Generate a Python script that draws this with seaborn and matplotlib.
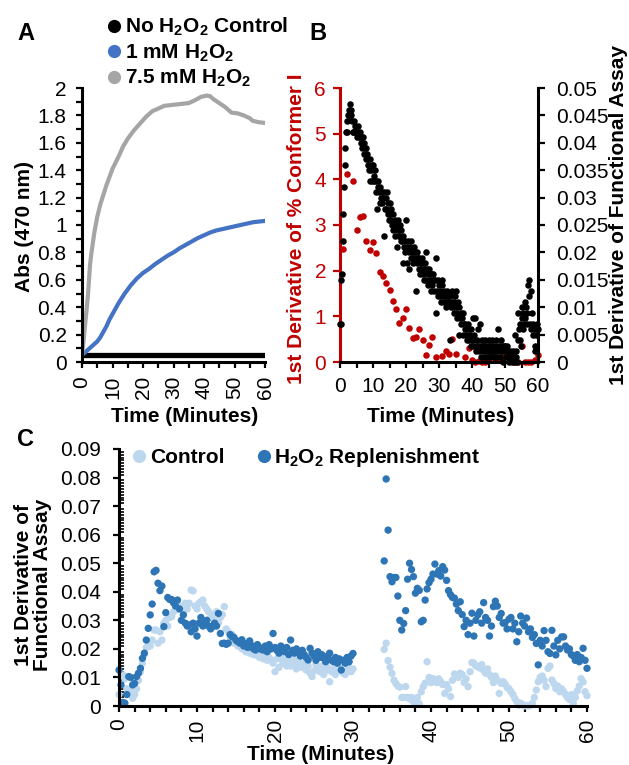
import numpy as np
import pandas as pd
import matplotlib
matplotlib.use("Agg")
import matplotlib.pyplot as plt
import seaborn as sns
from matplotlib.lines import Line2D
from matplotlib.ticker import MultipleLocator, FuncFormatter

# ---------------- Panel A data ----------------
A_GRAY_T = [0, 0.5, 1, 1.5, 2, 2.6, 3, 4, 5, 6, 7, 8, 9, 10, 12, 13.4, 15, 17, 19, 21, 23, 25,
            27, 29, 31, 33, 35, 37, 39, 41, 42, 43, 45, 47, 49, 51, 53, 55, 56, 58, 60]
A_GRAY_V = [0.05, 0.15, 0.27, 0.38, 0.50, 0.70, 0.78, 0.94, 1.06, 1.15, 1.22, 1.29, 1.35, 1.41,
            1.50, 1.57, 1.63, 1.69, 1.74, 1.79, 1.83, 1.85, 1.87, 1.875, 1.88, 1.885, 1.89, 1.91,
            1.935, 1.945, 1.94, 1.92, 1.89, 1.86, 1.82, 1.815, 1.80, 1.78, 1.76, 1.75, 1.745]
A_BLUE_T = [0, 2, 4, 5, 6, 7, 8, 9, 10, 11, 12, 14, 16, 18, 20, 22, 24, 26, 28, 30, 32, 34, 36,
            38, 40, 42, 44, 46, 48, 50, 52, 54, 56, 58, 60]
A_BLUE_V = [0.05, 0.09, 0.13, 0.15, 0.18, 0.22, 0.26, 0.31, 0.35, 0.39, 0.43, 0.50, 0.56, 0.61,
            0.65, 0.68, 0.715, 0.745, 0.775, 0.80, 0.83, 0.855, 0.88, 0.905, 0.925, 0.945, 0.96,
            0.97, 0.98, 0.99, 1.00, 1.01, 1.02, 1.025, 1.03]
A_BLACK_T = [0, 10, 20, 30, 40, 50, 60]
A_BLACK_V = [0.05, 0.05, 0.05, 0.05, 0.05, 0.05, 0.05]
A_LEGEND = [r"No H$_\mathbf{2}$O$_\mathbf{2}$ Control", r"1 mM H$_\mathbf{2}$O$_\mathbf{2}$",
            r"7.5 mM H$_\mathbf{2}$O$_\mathbf{2}$"]

# ---------------- Panel B data ----------------
B_RED_T = [1, 2, 3, 4, 5, 6, 7, 8, 9, 10, 11, 12, 13, 14, 15, 16, 17, 18, 19, 20, 21, 22, 23, 24,
           25, 26, 27, 28, 29, 31, 32, 33, 34, 35, 38, 39, 40, 41, 42, 43, 44, 45, 46, 47, 48,
           49, 50, 51, 52, 53, 54, 55, 56, 57, 58, 59, 60]
B_RED_V = [2.47, 4.12, 5.31, 3.97, 2.89, 3.17, 3.20, 2.66, 2.45, 2.62,
           2.39, 1.96, 1.88, 1.74, 1.58, 1.34, 1.15, 0.85, 0.96, 1.15,
           0.74, 0.52, 0.55, 0.73, 0.49, 0.15, 0.37, 0.54, 0.10,
           0.14, 0.25, 0.17, 0.50, 0.18,
           0.10, 0.30, 0.04, 0.0, 0.02, 0.0, 0.0, 0.08, 0.15, 0.05,
           0.05, 0.10, 0.23, 0.12, 0.08, 0.0, 0.0, 0.35, 0.0, 0.0,
           0.0, 0.05, 0.15]
B_BLK_STEP = 0.2
B_BLK_V = [
    0.007, 0.007, 0.015, 0.016, 0.022,  0.027, 0.032, 0.036, 0.039, 0.042,
    0.044, 0.042, 0.045, 0.046, 0.045,  0.047, 0.046, 0.045, 0.044, 0.042,
    0.042, 0.044, 0.042, 0.043, 0.042,  0.042, 0.041, 0.043, 0.042, 0.041,
    0.042, 0.041, 0.040, 0.041, 0.039,  0.041, 0.040, 0.038, 0.039, 0.037,
    0.039, 0.038, 0.036, 0.037, 0.035,  0.033, 0.037, 0.035, 0.036, 0.033,
    0.036, 0.034, 0.033, 0.035, 0.031,  0.033, 0.028, 0.032, 0.033, 0.031,
    0.029, 0.032, 0.030, 0.031, 0.029,  0.030, 0.023, 0.031, 0.028, 0.030,
    0.028, 0.031, 0.027, 0.029, 0.026,  0.029, 0.026, 0.027, 0.028, 0.025,
    0.024, 0.027, 0.025, 0.026, 0.023,  0.025, 0.021, 0.024, 0.026, 0.023,
    0.023, 0.025, 0.022, 0.024, 0.022,  0.018, 0.023, 0.021, 0.022, 0.020,
    0.026, 0.021, 0.018, 0.022, 0.020,  0.017, 0.021, 0.019, 0.022, 0.020,
    0.020, 0.018, 0.021, 0.019, 0.020,  0.013, 0.020, 0.018, 0.019, 0.017,
    0.019, 0.016, 0.018, 0.017, 0.019,  0.016, 0.018, 0.017, 0.015, 0.018,
    0.020, 0.015, 0.017, 0.016, 0.014,  0.017, 0.015, 0.016, 0.013, 0.016,
    0.014, 0.016, 0.015, 0.013, 0.015,  0.019, 0.009, 0.013, 0.015, 0.012,
    0.014, 0.012, 0.013, 0.011, 0.014,  0.015, 0.012, 0.013, 0.011, 0.012,
    0.012, 0.010, 0.013, 0.011, 0.012,  0.011, 0.004, 0.012, 0.010, 0.011,
    0.013, 0.010, 0.011, 0.009, 0.012,  0.009, 0.013, 0.010, 0.008, 0.011,
    0.005, 0.010, 0.008, 0.009, 0.007,  0.008, 0.005, 0.009, 0.007, 0.006,
    0.007, 0.005, 0.006, 0.004, 0.007,  0.006, 0.004, 0.005, 0.003, 0.006,
    0.003, 0.008, 0.004, 0.005, 0.003,  0.008, 0.002, 0.004, 0.003, 0.006,
    0.003, 0.002, 0.007, 0.003, 0.001,  0.004, 0.002, 0.003, 0.001, 0.003,
    0.004, 0.002, 0.003, 0.001, 0.002,  0.003, 0.004, 0.002, 0.001, 0.003,
    0.002, 0.004, 0.003, 0.001, 0.002,  0.003, 0.001, 0.004, 0.002, 0.003,
    0.006, 0.002, 0.003, 0.001, 0.004,  0.002, 0.003, 0.000, 0.002, 0.003,
    0.003, 0.001, 0.002, 0.003, 0.001,  0.002, 0.000, 0.001, 0.002, 0.001,
    0.001, 0.000, 0.002, 0.001, 0.000,  0.005, 0.001, 0.002, 0.000, 0.004,
    0.009, 0.006, 0.004, 0.007, 0.003,  0.010, 0.008, 0.006, 0.009, 0.007,
    0.011, 0.008, 0.010, 0.007, 0.009,  0.014, 0.015, 0.012, 0.007, 0.006,
    0.013, 0.009, 0.007, 0.005, 0.006,  0.002, 0.003, 0.005, 0.007, 0.006,
    0.006]
B_BLK_T = list(np.round(np.arange(len(B_BLK_V)) * B_BLK_STEP, 1))

# ---------------- Panel C data ----------------
C_STEP = 0.25
C_SEG1_START, C_SEG2_START = 0.0, 34.0
C_H2O2_SEG1 = [
    0.0126, 0.0074, 0.0012, 0.0010, 0.0040, 0.0103, 0.0100, 0.0074,
    0.0079, 0.0103, 0.0115, 0.0132, 0.0167, 0.0185, 0.0231, 0.0272,
    0.0319, 0.0357, 0.0470, 0.0475, 0.0430, 0.0404, 0.0420, 0.0278,
    0.0327, 0.0380, 0.0373, 0.0373, 0.0361, 0.0350, 0.0371, 0.0340,
    0.0300, 0.0319, 0.0290, 0.0280, 0.0284, 0.0260, 0.0290, 0.0270,
    0.0245, 0.0290, 0.0310, 0.0280, 0.0290, 0.0300, 0.0280, 0.0270,
    0.0278, 0.0290, 0.0280, 0.0324, 0.0254, 0.0219, 0.0220, 0.0216,
    0.0220, 0.0250, 0.0243, 0.0240, 0.0230, 0.0225, 0.0220, 0.0232,
    0.0210, 0.0218, 0.0205, 0.0228, 0.0212, 0.0200, 0.0196, 0.0215,
    0.0205, 0.0198, 0.0196, 0.0210, 0.0190, 0.0215, 0.0200, 0.0254,
    0.0205, 0.0195, 0.0185, 0.0210, 0.0200, 0.0190, 0.0205, 0.0180,
    0.0231, 0.0195, 0.0185, 0.0200, 0.0190, 0.0175, 0.0195, 0.0180,
    0.0170, 0.0161, 0.0202, 0.0185, 0.0175, 0.0160, 0.0190, 0.0170,
    0.0180, 0.0167, 0.0155, 0.0175, 0.0185, 0.0160, 0.0155, 0.0170,
    0.0150, 0.0165, 0.0126, 0.0160, 0.0150, 0.0170, 0.0155, 0.0175,
    0.0184]
C_CTRL_SEG1 = [
    0.0040, 0.0109, 0.0109, 0.0095, 0.0060, 0.0044, 0.0056, 0.0027,
    0.0040, 0.0060, 0.0090, 0.0120, 0.0150, 0.0180, 0.0205, 0.0225,
    0.0210, 0.0231, 0.0266, 0.0266, 0.0220, 0.0260, 0.0231, 0.0290,
    0.0300, 0.0280, 0.0310, 0.0313, 0.0330, 0.0336, 0.0340, 0.0350,
    0.0345, 0.0330, 0.0360, 0.0340, 0.0360, 0.0406, 0.0403, 0.0350,
    0.0340, 0.0360, 0.0365, 0.0371, 0.0350, 0.0340, 0.0330, 0.0310,
    0.0320, 0.0300, 0.0330, 0.0290, 0.0310, 0.0320, 0.0348, 0.0270,
    0.0260, 0.0240, 0.0250, 0.0220, 0.0230, 0.0210, 0.0220, 0.0200,
    0.0215, 0.0190, 0.0205, 0.0185, 0.0195, 0.0180, 0.0179, 0.0190,
    0.0170, 0.0185, 0.0165, 0.0175, 0.0160, 0.0170, 0.0161, 0.0150,
    0.0120, 0.0165, 0.0135, 0.0170, 0.0150, 0.0160, 0.0140, 0.0155,
    0.0140, 0.0165, 0.0150, 0.0130, 0.0160, 0.0145, 0.0135, 0.0150,
    0.0126, 0.0140, 0.0115, 0.0103, 0.0123, 0.0145, 0.0130, 0.0120,
    0.0140, 0.0110, 0.0125, 0.0135, 0.0085, 0.0120, 0.0130, 0.0110,
    0.0120, 0.0145, 0.0155, 0.0115, 0.0110, 0.0125, 0.0135, 0.0120,
    0.0130]
C_H2O2_SEG2 = [
    0.0508, 0.0795, 0.0616, 0.0453,  0.0435, 0.0450, 0.0450, 0.0385,
    0.0300, 0.0266, 0.0289, 0.0334,  0.0444, 0.0500, 0.0478, 0.0453,
    0.0395, 0.0412, 0.0405, 0.0295,  0.0300, 0.0371, 0.0410, 0.0432,
    0.0444, 0.0462, 0.0497, 0.0462,  0.0474, 0.0455, 0.0488, 0.0476,
    0.0440, 0.0404, 0.0390, 0.0380,  0.0378, 0.0357, 0.0334, 0.0365,
    0.0320, 0.0278, 0.0300, 0.0250,  0.0290, 0.0325, 0.0245, 0.0300,
    0.0319, 0.0330, 0.0290, 0.0362,  0.0310, 0.0300, 0.0245, 0.0280,
    0.0348, 0.0367, 0.0350, 0.0310,  0.0324, 0.0290, 0.0292, 0.0270,
    0.0304, 0.0310, 0.0270, 0.0290,  0.0225, 0.0260, 0.0315, 0.0290,
    0.0280, 0.0308, 0.0260, 0.0270,  0.0240, 0.0250, 0.0219, 0.0144,
    0.0230, 0.0210, 0.0264, 0.0230,  0.0190, 0.0184, 0.0265, 0.0210,
    0.0179, 0.0230, 0.0200, 0.0242,  0.0242, 0.0210, 0.0196, 0.0200,
    0.0180, 0.0175, 0.0160, 0.0180,  0.0155, 0.0170, 0.0202, 0.0160,
    0.0132]
C_CTRL_SEG2 = [
    0.0198, 0.0220, 0.0159, 0.0136,  0.0114, 0.0090, 0.0079, 0.0070,
    0.0066, 0.0030, 0.0030, 0.0068,  0.0030, 0.0025, 0.0030, 0.0015,
    0.0010, 0.0030, 0.0008, 0.0050,  0.0068, 0.0080, 0.0155, 0.0100,
    0.0082, 0.0096, 0.0090, 0.0082,  0.0095, 0.0085, 0.0075, 0.0044,
    0.0075, 0.0060, 0.0033, 0.0090,  0.0112, 0.0105, 0.0100, 0.0115,
    0.0110, 0.0082, 0.0095, 0.0068,  0.0120, 0.0152, 0.0150, 0.0140,
    0.0138, 0.0133, 0.0145, 0.0125,  0.0115, 0.0130, 0.0110, 0.0100,
    0.0082, 0.0105, 0.0091, 0.0044,  0.0079, 0.0085, 0.0077, 0.0065,
    0.0060, 0.0050, 0.0040, 0.0026,  0.0015, 0.0003, 0.0010, 0.0005,
    0.0000, 0.0002, 0.0000, 0.0003,  0.0010, 0.0030, 0.0056, 0.0085,
    0.0100, 0.0105, 0.0090, 0.0068,  0.0132, 0.0140, 0.0091, 0.0079,
    0.0061, 0.0070, 0.0050, 0.0060,  0.0050, 0.0040, 0.0030, 0.0023,
    0.0040, 0.0009, 0.0030, 0.0053,  0.0070, 0.0096, 0.0084, 0.0050,
    0.0036]
C_GROUPS = ["Control", "H2O2 Replenishment"]
C_LEGEND = ["Control", r"H$_\mathbf{2}$O$_\mathbf{2}$ Replenishment"]

# ---------------- colours ----------------
COL_GRAY, COL_BLUE, COL_BLACK = "#A5A5A5", "#4472C4", "#000000"
COL_RED = "#C00000"
COL_LIGHT, COL_DARK = "#BDD7EE", "#2E75B6"

# ---------------- style ----------------
sns.set_style("ticks")
plt.rcParams["font.family"] = ["Liberation Sans", "DejaVu Sans"]
plt.rcParams["font.size"] = 15
plt.rcParams["text.color"] = "black"
plt.rcParams["axes.labelcolor"] = "black"
plt.rcParams["axes.edgecolor"] = "black"
plt.rcParams["xtick.color"] = "black"
plt.rcParams["ytick.color"] = "black"
plt.rcParams["mathtext.fontset"] = "custom"
plt.rcParams["mathtext.rm"] = "Liberation Sans"
plt.rcParams["mathtext.bf"] = "Liberation Sans:bold"
plt.rcParams["mathtext.it"] = "Liberation Sans:italic"

W, H = 629, 765
fig = plt.figure(figsize=(W / 100, H / 100), dpi=100)


def box(l, t, r, b):
    return [l / W, 1 - b / H, (r - l) / W, (b - t) / H]


def fmt(v, p):
    s = ("%.4f" % v).rstrip("0").rstrip(".")
    return "0" if s in ("-0", "") else s


def ax_coords(ax, px, py):
    disp = fig.transFigure.transform((px / W, 1 - py / H))
    return ax.transAxes.inverted().transform(disp)


SPINE_W = 2.2

# ================= Panel A =================
axA = fig.add_axes(box(82, 88, 265, 362))
sns.lineplot(x=A_BLACK_T, y=A_BLACK_V, color=COL_BLACK, lw=3.8, ax=axA)
sns.lineplot(x=A_BLUE_T, y=A_BLUE_V, color=COL_BLUE, lw=3.0, ax=axA)
sns.lineplot(x=A_GRAY_T, y=A_GRAY_V, color=COL_GRAY, lw=3.0, ax=axA)
axA.set_xlim(0, 60)
axA.set_ylim(0, 2)
sns.despine(ax=axA)
for s in ("left", "bottom"):
    axA.spines[s].set_linewidth(SPINE_W)
axA.xaxis.set_major_locator(MultipleLocator(10))
axA.xaxis.set_minor_locator(MultipleLocator(5))
axA.yaxis.set_major_locator(MultipleLocator(0.2))
axA.yaxis.set_minor_locator(MultipleLocator(0.1))
axA.xaxis.set_major_formatter(FuncFormatter(fmt))
axA.yaxis.set_major_formatter(FuncFormatter(fmt))
axA.tick_params(axis="both", which="both", direction="out", width=1.6, length=4, colors="black")
axA.tick_params(axis="y", which="major", pad=7, labelsize=15)
axA.tick_params(axis="x", which="major", pad=6, labelsize=15, labelrotation=90)
axA.set_xlabel("Time (Minutes)", fontsize=15, fontweight="bold", ha="center", va="center")
axA.xaxis.set_label_coords(*ax_coords(axA, 185, 417))
axA.set_ylabel("Abs (470 nm)", fontsize=15, fontweight="bold", ha="center", va="center")
axA.yaxis.set_label_coords(*ax_coords(axA, 25, 227))

handlesA = [Line2D([], [], ls="", marker="o", markersize=9.5, markeredgewidth=0, color=c)
            for c in (COL_BLACK, COL_BLUE, COL_GRAY)]
fig.legend(handlesA, A_LEGEND, loc="upper left", bbox_to_anchor=(108 / W, 1 - 16 / H),
           frameon=False, borderpad=0, borderaxespad=0, handlelength=0.6,
           handletextpad=0.2, labelspacing=0.2,
           prop={"size": 15, "weight": "bold"})

# ================= Panel B =================
axB = fig.add_axes(box(340, 88, 538, 362))
axB2 = axB.twinx()
sns.scatterplot(x=B_RED_T, y=B_RED_V, color=COL_RED, s=22, linewidth=0, ax=axB, clip_on=False)
sns.scatterplot(x=B_BLK_T, y=B_BLK_V, color=COL_BLACK, s=22, linewidth=0, ax=axB2, clip_on=False)
axB.set_xlim(0, 60)
axB.set_ylim(0, 6)
axB2.set_ylim(0, 0.05)
for a in (axB, axB2):
    a.spines["top"].set_visible(False)
axB.spines["right"].set_visible(False)
axB2.spines["left"].set_visible(False)
axB2.spines["bottom"].set_visible(False)
axB.spines["left"].set_color(COL_RED)
axB.spines["left"].set_linewidth(SPINE_W)
axB.spines["bottom"].set_linewidth(SPINE_W)
axB2.spines["right"].set_linewidth(SPINE_W)
axB.xaxis.set_major_locator(MultipleLocator(10))
axB.xaxis.set_minor_locator(MultipleLocator(5))
axB.yaxis.set_major_locator(MultipleLocator(1))
axB2.yaxis.set_major_locator(MultipleLocator(0.005))
axB.xaxis.set_major_formatter(FuncFormatter(fmt))
axB2.yaxis.set_major_formatter(FuncFormatter(fmt))
axB.tick_params(axis="x", which="both", direction="out", width=1.6, length=4, pad=7,
                labelsize=15, colors="black")
axB.tick_params(axis="y", which="both", direction="out", width=1.6, length=5, pad=5,
                labelsize=15, colors=COL_RED)
axB2.tick_params(axis="y", which="both", direction="out", width=1.6, length=5, pad=8,
                 labelsize=15, colors="black")
axB.set_xlabel("Time (Minutes)", fontsize=15, fontweight="bold", ha="center", va="center")
axB.xaxis.set_label_coords(*ax_coords(axB, 441, 417))
axB.set_ylabel("1st Derivative of % Conformer I", fontsize=15, fontweight="bold",
               color=COL_RED, ha="center", va="center")
axB.yaxis.set_label_coords(*ax_coords(axB, 296, 229))
axB2.set_ylabel("1st Derivative of Functional Assay", fontsize=15, fontweight="bold",
                ha="center", va="center", rotation=90)
axB2.yaxis.set_label_coords(*ax_coords(axB2, 619, 215))

# ================= Panel C =================
axC = fig.add_axes(box(119, 449, 587, 706))
n1, n2 = len(C_CTRL_SEG1), len(C_CTRL_SEG2)
t1 = list(np.round(C_SEG1_START + np.arange(n1) * C_STEP, 2))
t2 = list(np.round(C_SEG2_START + np.arange(n2) * C_STEP, 2))
dfC = pd.DataFrame({
    "t": t1 + t2 + t1 + t2,
    "v": C_CTRL_SEG1 + C_CTRL_SEG2 + C_H2O2_SEG1 + C_H2O2_SEG2,
    "group": [C_GROUPS[0]] * (n1 + n2) + [C_GROUPS[1]] * (n1 + n2),
})
sns.scatterplot(data=dfC, x="t", y="v", hue="group", hue_order=C_GROUPS,
                palette=[COL_LIGHT, COL_DARK], s=28, linewidth=0, ax=axC,
                legend=False, clip_on=False)
axC.set_xlim(0, 60)
axC.set_ylim(0, 0.09)
sns.despine(ax=axC)
for s in ("left", "bottom"):
    axC.spines[s].set_linewidth(SPINE_W)
axC.xaxis.set_major_locator(MultipleLocator(10))
axC.xaxis.set_minor_locator(MultipleLocator(2))
axC.yaxis.set_major_locator(MultipleLocator(0.01))
axC.yaxis.set_minor_locator(MultipleLocator(0.001))
axC.xaxis.set_major_formatter(FuncFormatter(fmt))
axC.yaxis.set_major_formatter(FuncFormatter(fmt))
axC.tick_params(axis="x", which="both", direction="out", width=1.6, length=4, colors="black")
axC.tick_params(axis="x", which="major", pad=5, labelsize=15, labelrotation=90)
axC.tick_params(axis="y", which="major", direction="out", width=1.6, length=4, pad=9,
                labelsize=15, colors="black")
axC.tick_params(axis="y", which="minor", direction="in", width=1.2, length=3.5, colors="black")
axC.set_xlabel("Time (Minutes)", fontsize=15, fontweight="bold", ha="center", va="center")
axC.xaxis.set_label_coords(*ax_coords(axC, 321, 755))
axC.set_ylabel("1st Derivative of\nFunctional Assay", fontsize=15, fontweight="bold",
               ha="center", va="center", linespacing=0.95)
axC.yaxis.set_label_coords(*ax_coords(axC, 33, 585))

handlesC = [Line2D([], [], ls="", marker="o", markersize=9.5, markeredgewidth=0, color=c)
            for c in (COL_LIGHT, COL_DARK)]
axC.legend(handlesC, C_LEGEND, loc="upper left",
           bbox_to_anchor=tuple(ax_coords(axC, 133, 446)), ncol=2,
           frameon=False, borderpad=0, borderaxespad=0, handlelength=0.6,
           handletextpad=0.2, columnspacing=1.6,
           prop={"size": 15, "weight": "bold"})

# ================= panel letters =================
for letter, (px, py) in zip(["A", "B", "C"], [(26, 33), (318, 33), (26, 440)]):
    fig.text(px / W, 1 - py / H, letter, fontsize=17, fontweight="bold", ha="center", va="center")

fig.savefig("out.png", dpi=100)
